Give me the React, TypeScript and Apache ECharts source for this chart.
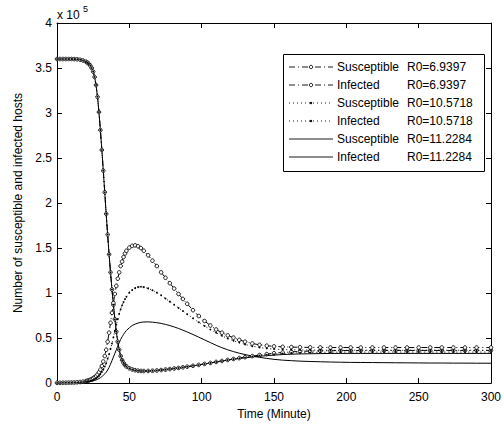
import React, { useEffect, useRef } from "react";
import * as echarts from "echarts";

// Time points (minutes)
const timePoints = [
  0, 2, 4, 6, 8, 10, 12, 14, 16, 18, 20,
  21, 22, 23, 24, 25, 26, 27, 28, 29, 30, 31, 32, 33, 34, 35, 36, 37, 38, 39, 40, 41, 42, 43, 44, 45, 46, 47, 48,
  50, 52, 54, 56, 58, 60,
  63, 66, 69, 72, 75, 78, 81, 84, 87, 90,
  94, 98, 102, 106, 110, 114, 118, 122, 126, 130,
  135, 140, 145, 150,
  156, 162, 168,
  175, 182, 189, 196, 203, 210,
  218, 226, 234, 242, 250, 258, 266, 274, 282, 290, 300,
];

// Values in units of 10^5 hosts
const susceptibleR1 = [
  3.6, 3.6, 3.6, 3.6, 3.6, 3.6, 3.599, 3.597, 3.592, 3.584, 3.57,
  3.56, 3.546, 3.527, 3.5, 3.46, 3.4, 3.31, 3.18, 3.01, 2.81, 2.59, 2.36, 2.12, 1.88, 1.65, 1.43, 1.23, 1.04, 0.87, 0.71, 0.57, 0.46, 0.37, 0.3, 0.255, 0.225, 0.2, 0.185,
  0.165, 0.152, 0.143, 0.138, 0.135, 0.134,
  0.135, 0.137, 0.14, 0.145, 0.15, 0.156, 0.162, 0.168, 0.175, 0.182,
  0.192, 0.202, 0.213, 0.224, 0.235, 0.246, 0.257, 0.268, 0.278, 0.288,
  0.3, 0.312, 0.322, 0.332,
  0.34, 0.347, 0.352,
  0.356, 0.358, 0.36, 0.361, 0.362, 0.362,
  0.363, 0.363, 0.363, 0.363, 0.363, 0.363, 0.363, 0.363, 0.363, 0.363, 0.363,
];
const infectedR1 = [
  0.003, 0.003, 0.004, 0.004, 0.005, 0.006, 0.007, 0.009, 0.012, 0.016, 0.022,
  0.026, 0.031, 0.037, 0.045, 0.054, 0.065, 0.078, 0.095, 0.12, 0.15, 0.19, 0.24, 0.3, 0.37, 0.46, 0.56, 0.67, 0.78, 0.89, 0.99, 1.08, 1.16, 1.23, 1.3, 1.35, 1.4, 1.44, 1.47,
  1.505, 1.525, 1.53, 1.52, 1.5, 1.47,
  1.42, 1.36, 1.3, 1.23, 1.17, 1.11, 1.05, 0.99, 0.935, 0.88,
  0.81, 0.745, 0.69, 0.64, 0.595, 0.56, 0.53, 0.505, 0.48, 0.46,
  0.44, 0.425, 0.415, 0.408,
  0.403, 0.4, 0.398,
  0.397, 0.396, 0.395, 0.395, 0.395, 0.395,
  0.395, 0.395, 0.395, 0.395, 0.395, 0.395, 0.395, 0.395, 0.395, 0.395, 0.395,
];
const susceptibleR2 = [
  3.6, 3.6, 3.6, 3.6, 3.6, 3.6, 3.599, 3.597, 3.592, 3.584, 3.57,
  3.56, 3.546, 3.527, 3.5, 3.46, 3.4, 3.31, 3.18, 3.01, 2.81, 2.59, 2.36, 2.12, 1.88, 1.65, 1.43, 1.23, 1.04, 0.87, 0.71, 0.57, 0.46, 0.37, 0.3, 0.255, 0.225, 0.2, 0.185,
  0.165, 0.152, 0.143, 0.138, 0.135, 0.134,
  0.135, 0.137, 0.14, 0.145, 0.15, 0.156, 0.162, 0.168, 0.175, 0.182,
  0.192, 0.202, 0.213, 0.224, 0.235, 0.246, 0.256, 0.266, 0.276, 0.285,
  0.296, 0.306, 0.314, 0.321,
  0.328, 0.333, 0.337,
  0.34, 0.342, 0.343, 0.344, 0.345, 0.345,
  0.345, 0.345, 0.345, 0.345, 0.345, 0.345, 0.345, 0.345, 0.345, 0.345, 0.345,
];
const infectedR2 = [
  0.002, 0.002, 0.003, 0.003, 0.004, 0.005, 0.006, 0.007, 0.009, 0.012, 0.015,
  0.017, 0.02, 0.024, 0.029, 0.035, 0.043, 0.053, 0.065, 0.08, 0.1, 0.125, 0.15, 0.185, 0.22, 0.27, 0.32, 0.38, 0.44, 0.51, 0.58, 0.65, 0.71, 0.77, 0.82, 0.865, 0.9, 0.935, 0.96,
  1.005, 1.035, 1.055, 1.066, 1.07, 1.066,
  1.052, 1.032, 1.005, 0.975, 0.94, 0.905, 0.87, 0.835, 0.8, 0.765,
  0.72, 0.675, 0.635, 0.595, 0.56, 0.525, 0.495, 0.47, 0.45, 0.43,
  0.41, 0.395, 0.385, 0.378,
  0.373, 0.37, 0.368,
  0.367, 0.366, 0.366, 0.365, 0.365, 0.365,
  0.365, 0.365, 0.365, 0.365, 0.365, 0.365, 0.365, 0.365, 0.365, 0.365, 0.365,
];
const susceptibleR3 = [
  3.6, 3.6, 3.6, 3.6, 3.6, 3.6, 3.599, 3.597, 3.592, 3.584, 3.57,
  3.56, 3.546, 3.527, 3.5, 3.46, 3.4, 3.31, 3.18, 3.01, 2.81, 2.59, 2.36, 2.12, 1.88, 1.65, 1.43, 1.23, 1.04, 0.87, 0.71, 0.57, 0.46, 0.37, 0.3, 0.255, 0.225, 0.2, 0.185,
  0.165, 0.152, 0.143, 0.138, 0.135, 0.134,
  0.135, 0.137, 0.14, 0.145, 0.15, 0.156, 0.162, 0.168, 0.175, 0.182,
  0.192, 0.202, 0.213, 0.224, 0.235, 0.245, 0.255, 0.265, 0.273, 0.28,
  0.29, 0.298, 0.305, 0.311,
  0.317, 0.321, 0.324,
  0.326, 0.328, 0.329, 0.33, 0.33, 0.33,
  0.33, 0.33, 0.33, 0.33, 0.33, 0.33, 0.33, 0.33, 0.33, 0.33, 0.33,
];
const infectedR3 = [
  0.001, 0.001, 0.001, 0.001, 0.002, 0.002, 0.003, 0.004, 0.005, 0.007, 0.01,
  0.012, 0.014, 0.017, 0.02, 0.024, 0.029, 0.035, 0.042, 0.05, 0.06, 0.072, 0.086, 0.102, 0.12, 0.145, 0.175, 0.21, 0.25, 0.29, 0.33, 0.37, 0.41, 0.45, 0.485, 0.515, 0.54, 0.565, 0.585,
  0.615, 0.64, 0.655, 0.667, 0.675, 0.679,
  0.68, 0.677, 0.671, 0.663, 0.652, 0.639, 0.624, 0.607, 0.588, 0.568,
  0.54, 0.51, 0.48, 0.45, 0.42, 0.393, 0.37, 0.35, 0.332, 0.317,
  0.3, 0.286, 0.274, 0.264,
  0.255, 0.249, 0.244,
  0.24, 0.237, 0.234, 0.232, 0.23, 0.229,
  0.228, 0.227, 0.226, 0.225, 0.224, 0.223, 0.223, 0.222, 0.222, 0.221, 0.221,
];

const seriesLabels = ["Susceptible", "Infected", "Susceptible", "Infected", "Susceptible", "Infected"];
const seriesR0 = ["R0=6.9397", "R0=6.9397", "R0=10.5718", "R0=10.5718", "R0=11.2284", "R0=11.2284"];
const seriesValues = [susceptibleR1, infectedR1, susceptibleR2, infectedR2, susceptibleR3, infectedR3];

const FONT = "'Liberation Sans', Arial, Helvetica, sans-serif";

function pairs(vals: number[]) {
  return timePoints.map((t, i) => [t, vals[i]]);
}

const dashDot = [6, 3, 1, 3];
const dotted = [1, 3];

const styles = [
  { symbol: "circle", symbolSize: 3.6, dash: dashDot as any, kind: "circle" },
  { symbol: "circle", symbolSize: 3.6, dash: dashDot as any, kind: "circle" },
  { symbol: "circle", symbolSize: 1.8, dash: dotted as any, kind: "dot" },
  { symbol: "circle", symbolSize: 1.8, dash: dotted as any, kind: "dot" },
  { symbol: "none", symbolSize: 0, dash: "solid" as any, kind: "none" },
  { symbol: "none", symbolSize: 0, dash: "solid" as any, kind: "none" },
];

function buildLegendGraphic() {
  const left = 283;
  const top = 54;
  const els: any[] = [
    {
      type: "rect",
      shape: { x: left + 0.5, y: top + 0.5, width: 201, height: 117 },
      style: { fill: "#fff", stroke: "#000", lineWidth: 1 },
      z: 10,
    },
  ];
  seriesLabels.forEach((label, i) => {
    const y = top + 13 + 18 * i;
    const st = styles[i];
    els.push({
      type: "line",
      shape: { x1: left + 6, y1: y, x2: left + 50, y2: y },
      style: {
        stroke: "#000",
        lineWidth: 0.9,
        lineDash: st.dash === "solid" ? null : st.dash,
      },
      z: 11,
    });
    if (st.kind === "circle") {
      els.push({
        type: "circle",
        shape: { cx: left + 28, cy: y, r: 1.7 },
        style: { fill: "#fff", stroke: "#000", lineWidth: 0.9 },
        z: 12,
      });
    } else if (st.kind === "dot") {
      els.push({
        type: "circle",
        shape: { cx: left + 28, cy: y, r: 1.2 },
        style: { fill: "#000" },
        z: 12,
      });
    }
    els.push({
      type: "text",
      x: left + 54,
      y,
      style: { text: label, fontSize: 12, fontFamily: FONT, fill: "#000", textVerticalAlign: "middle" },
      z: 12,
    });
    els.push({
      type: "text",
      x: left + 124,
      y,
      style: { text: seriesR0[i], fontSize: 12, fontFamily: FONT, fill: "#000", textVerticalAlign: "middle" },
      z: 12,
    });
  });
  return els;
}

function buildOption() {
  const axisCommon = {
    type: "value" as const,
    axisLine: { show: true, onZero: false, lineStyle: { color: "#000", width: 1 } },
    axisTick: { show: true, inside: true, length: 5, lineStyle: { color: "#000", width: 1 } },
    splitLine: { show: false },
  };
  return {
    animation: false,
    backgroundColor: "#fff",
    textStyle: { fontFamily: FONT },
    grid: { left: 57, right: 11, top: 23, bottom: 38 },
    xAxis: [
      {
        ...axisCommon,
        min: 0,
        max: 300,
        interval: 50,
        position: "bottom",
        name: "Time (Minute)",
        nameLocation: "middle",
        nameGap: 22,
        nameTextStyle: { color: "#000", fontSize: 12, fontFamily: FONT },
        axisLabel: { color: "#000", fontSize: 12, margin: 8, fontFamily: FONT },
      },
      {
        ...axisCommon,
        min: 0,
        max: 300,
        interval: 50,
        position: "top",
        axisLabel: { show: false },
      },
    ],
    yAxis: [
      {
        ...axisCommon,
        min: 0,
        max: 4,
        interval: 0.5,
        position: "left",
        name: "Number of susceptible and infected hosts",
        nameLocation: "middle",
        nameGap: 17,
        nameTextStyle: { color: "#000", fontSize: 12, fontFamily: FONT },
        axisLabel: { color: "#000", fontSize: 12, margin: 5, fontFamily: FONT },
      },
      {
        ...axisCommon,
        min: 0,
        max: 4,
        interval: 0.5,
        position: "right",
        axisLabel: { show: false },
      },
    ],
    graphic: [
      {
        type: "text",
        x: 57,
        y: 15,
        style: { text: "x 10", fontSize: 12, fontFamily: FONT, fill: "#000", textVerticalAlign: "middle" },
      },
      {
        type: "text",
        x: 83,
        y: 9,
        style: { text: "5", fontSize: 9, fontFamily: FONT, fill: "#000", textVerticalAlign: "middle" },
      },
      ...buildLegendGraphic(),
    ],
    series: seriesLabels.map((label, i) => ({
      name: `${label} ${seriesR0[i]}`,
      type: "line",
      xAxisIndex: 0,
      yAxisIndex: 0,
      data: pairs(seriesValues[i]),
      symbol: styles[i].symbol,
      symbolSize: styles[i].symbolSize,
      showSymbol: styles[i].symbol !== "none",
      lineStyle: { color: "#000", width: 1, type: styles[i].dash },
      itemStyle:
        styles[i].kind === "circle"
          ? { color: "#fff", borderColor: "#000", borderWidth: 0.9 }
          : { color: "#000", borderWidth: 0 },
      emphasis: { disabled: true },
      clip: true,
      z: 2,
    })),
  };
}

export default function App() {
  const ref = useRef<HTMLDivElement>(null);
  useEffect(() => {
    if (!ref.current) return;
    const chart = echarts.init(ref.current, null, { renderer: "svg" });
    chart.setOption(buildOption() as any);
    return () => chart.dispose();
  }, []);
  return (
    <div
      ref={ref}
      style={{ position: "fixed", left: 0, top: 0, width: 504, height: 425, background: "#fff" }}
    />
  );
}
